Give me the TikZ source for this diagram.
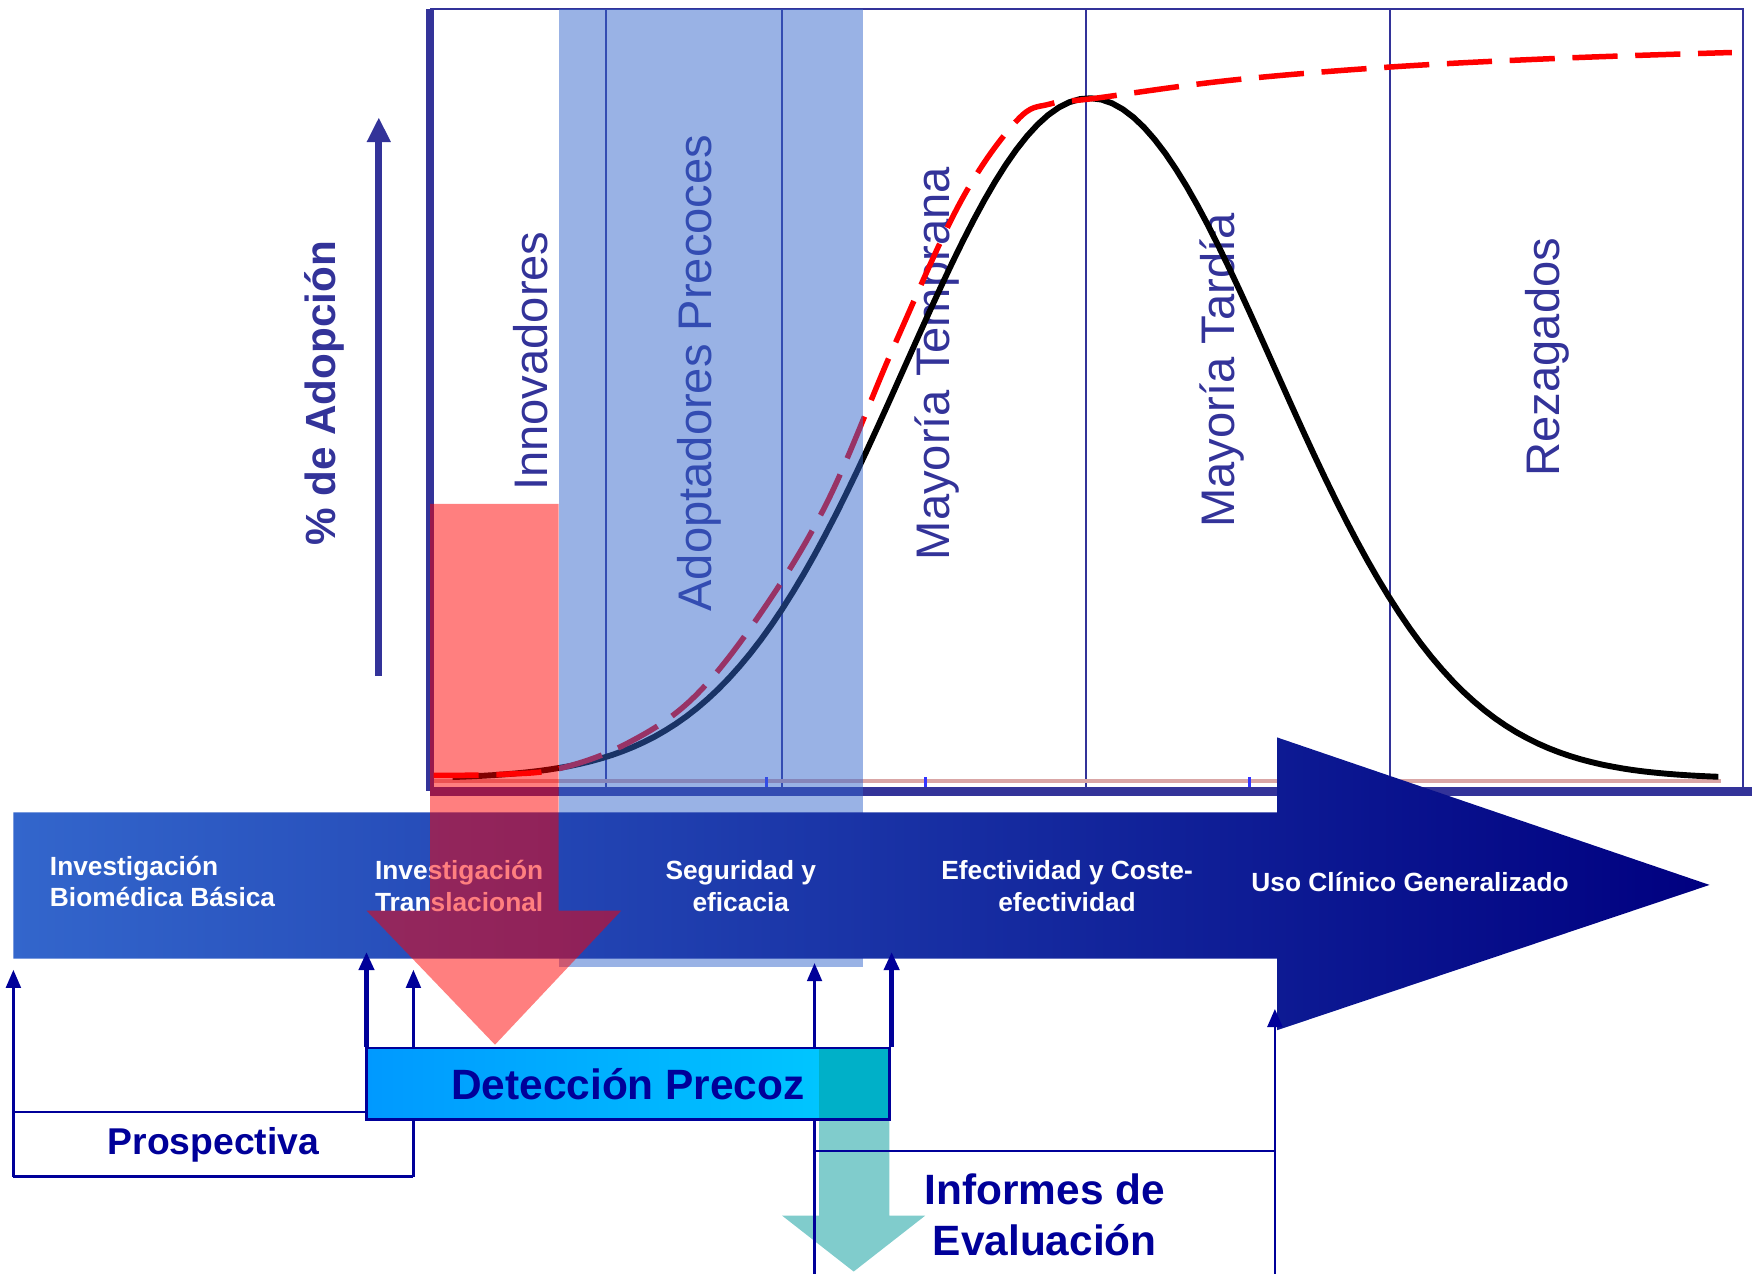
\documentclass[tikz,border=0pt]{standalone}
\usepackage{fontspec}
\setmainfont{Liberation Sans}
\usetikzlibrary{arrows.meta}
\definecolor{chartblue}{RGB}{51,51,153}
\definecolor{linkblue}{RGB}{0,0,153}
\definecolor{flowleft}{RGB}{51,102,204}
\definecolor{flowright}{RGB}{0,0,128}
\definecolor{detleft}{RGB}{0,153,255}
\definecolor{detright}{RGB}{0,204,255}
\definecolor{tealarrow}{RGB}{128,204,204}
\definecolor{tealdark}{RGB}{0,176,200}
\definecolor{pinkline}{RGB}{217,166,166}
\definecolor{tickblue}{RGB}{51,51,255}

\tikzset{
	phase/.style={text=chartblue,font=\fontsize{12}{14}\selectfont,
		rotate=90,anchor=base west,inner sep=0pt},
	stage/.style={text=white,font=\bfseries\fontsize{6.7}{8}\selectfont,
		align=center,inner sep=0pt},
	link/.style={linkblue,line width=0.6pt},
	thicklink/.style={linkblue,line width=1.1pt},
	tag/.style={text=linkblue,font=\bfseries\fontsize{10.8}{13.1}\selectfont,
		align=center,inner sep=0pt}
}

\begin{document}
\begin{tikzpicture}[>={Triangle[length=4.6pt,width=3.8pt]}]
	\useasboundingbox (0,0) rectangle (15.68,11.40);
	
	\coordinate (O) at (3.85,4.32);   % origin of the chart
	\coordinate (T) at (3.85,11.32);  % top of the y axis
	\coordinate (R) at (15.60,11.32); % top right corner
	\coordinate (E) at (15.68,4.32);  % end of the x axis
	
	% frame and phase borders
	\draw[chartblue,line width=0.5pt] (T)--(R)--(15.60,4.32);
	\foreach \x in {5.42,7.00,9.72,12.44}
		\draw[chartblue,line width=0.5pt] (\x,4.32)--(\x,11.32);
	\draw[pinkline,line width=0.8pt] (3.85,4.41)--(15.40,4.41);
	\foreach \x in {6.86,8.28,11.18}
		\draw[tickblue,line width=0.8pt] (\x,4.36)--(\x,4.45);
	\draw[chartblue,line width=2pt] (T)--(O);
	\draw[chartblue,line width=2.3pt] (O)--(E);
	
	\path
		(4.90,7.00)  node[phase] (inno)  {Innovadores}
		(6.37,5.92)  node[phase] (early) {Adoptadores Precoces}
		(8.50,6.38)  node[phase] (majE)  {Mayoría Temprana}
		(11.05,6.67) node[phase] (majL)  {Mayoría Tardía}
		(13.96,7.13) node[phase] (lag)   {Rezagados};
	
	% adoption curve and its running trend
	\draw[line width=1.5pt] plot[domain=4.05:15.38,samples=120]
		(\x,{4.43+6.09*exp(-0.5*((\x-9.75)/1.65)*((\x-9.75)/1.65))});
	\draw[red,line width=1.4pt,dash pattern=on 11.5pt off 4.5pt]
		plot[smooth,tension=0.6] coordinates {(3.88,4.46) (4.50,4.47)
		(5.00,4.52) (5.60,4.74) (6.20,5.15) (6.80,5.90) (7.40,6.90)
		(8.00,8.30) (8.60,9.60) (9.10,10.32) (9.40,10.47) (9.80,10.52)
		(11.00,10.68) (12.44,10.80) (14.00,10.88) (15.50,10.93)};
	
	% y axis
	\coordinate (Y0) at (3.39,5.35);
	\coordinate (Y1) at (3.39,10.35);
	\draw[-{Triangle[length=6.3pt,width=5.7pt]},chartblue,line width=1.7pt] (Y0)--(Y1);
	\node[rotate=90,text=chartblue,inner sep=0pt,
		font=\bfseries\fontsize{10.75}{13}\selectfont] (adop) at (2.90,7.88) {\% de Adopción};
	
	% early adopters band
	\fill[flowleft,opacity=0.5] (5.00,2.75) rectangle (7.72,11.32);
	
	% the research flow
	\shade[left color=flowleft,right color=flowright]
		(0.12,4.13)--(11.43,4.13)--(11.43,4.80)--(15.30,3.48)
		--(11.43,2.18)--(11.43,2.82)--(0.12,2.82)--cycle;
	\node[stage,align=left,anchor=west] (basic)  at (0.44,3.51) {Investigación\\Biomédica Básica};
	\node[stage,align=left,anchor=west] (transl) at (3.35,3.47) {Investigación\\Translacional};
	\node[stage] (safety) at (6.63,3.47) {Seguridad y\\eficacia};
	\node[stage] (effect) at (9.55,3.47) {Efectividad y Coste-\\efectividad};
	\node[stage] (clinic) at (12.62,3.51) {Uso Clínico Generalizado};
	
	% innovators drop down to early detection
	\fill[red,opacity=0.5] (3.85,6.89)--(5.00,6.89)--(5.00,3.25)--(5.56,3.25)
		--(4.43,2.05)--(3.28,3.25)--(3.85,3.25)--cycle;
	
	% assessment reports
	\fill[tealarrow] (7.33,1.38)--(7.96,1.38)--(7.96,0.52)--(8.28,0.52)
		--(7.64,0.02)--(7.00,0.52)--(7.33,0.52)--cycle;
	
	\node[draw=linkblue,line width=0.6pt,left color=detleft,right color=detright,
		minimum width=4.68cm,minimum height=0.64cm,inner sep=0pt,
		path picture={\fill[tealdark] ([xshift=-0.63cm]path picture bounding box.north east)
			rectangle (path picture bounding box.south east);}] (det) at (5.62,1.70) {};
	\node[tag] (detlabel) at (det) {Detección Precoz};
	
	\coordinate (pBL) at (0.12,0.87);  % prospectiva, bottom left
	\coordinate (pBR) at (3.70,0.87);  % prospectiva, bottom right
	\coordinate (pTL) at (0.12,1.45);  % prospectiva, top left
	\coordinate (iBL) at (7.29,0);     % informes, bottom left
	\coordinate (iBR) at (11.41,0);    % informes, bottom right
	\coordinate (iTL) at (7.29,1.10);
	\coordinate (iTR) at (11.41,1.10);
	\coordinate (fA) at (0.12,2.72);   % tips under the flow
	\coordinate (fB) at (3.28,2.88);
	\coordinate (fC) at (3.70,2.72);
	\coordinate (fD) at (7.29,2.78);
	\coordinate (fE) at (7.98,2.88);
	\coordinate (fF) at (11.41,2.37);
	
	\draw[link] (pTL)--(pTL-|det.west) (pBL)--(pBR) (iTL)--(iTR)
		(pBR)--(pBR|-det.south) (iBL)--(iBL|-det.south);
	\draw[link,->] (pBL)--(fA);
	\draw[link,->] (pBR|-det.north)--(fC);
	\draw[link,->] (iBL|-det.north)--(fD);
	\draw[link,->] (iBR)--(fF);
	\draw[thicklink,->] (fB|-det.north)--(fB);
	\draw[thicklink,->] (fE|-det.north)--(fE);
	
	\node[tag,font=\bfseries\fontsize{9.5}{12}\selectfont] (prosp) at (1.91,1.15) {Prospectiva};
	\node[tag] (informes) at (9.35,0.53) {Informes de\\Evaluación};
	
\end{tikzpicture}
\end{document}
